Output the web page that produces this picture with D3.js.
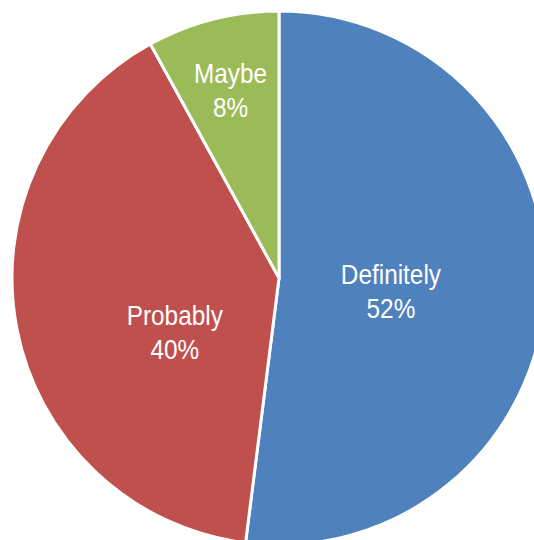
<!DOCTYPE html>
<html>
<head>
<meta charset="utf-8">
<script src="https://cdn.jsdelivr.net/npm/d3@7/dist/d3.min.js"></script>
<style>
  html, body { margin: 0; padding: 0; background: #ffffff; }
  svg { display: block; }
</style>
</head>
<body>
<svg id="chart" width="534" height="540"></svg>
<script>
// ---- data ----
const categories = ["Definitely", "Probably", "Maybe"];
const values = [52, 40, 8];
const valueLabels = ["52%", "40%", "8%"];

// ---- styling / layout ----
const colors = ["#4F81BD", "#C0504D", "#9BBB59"];
const width = 534, height = 540;
const cx = 279, cy = 278, radius = 267;
// label placement (fraction of radius, angular nudge in degrees, pixel nudge)
const labelLayout = [
  { r: 0.42, dAngle: 0, dx: 0, dy: 3 },
  { r: 0.43, dAngle: -14, dx: 0, dy: 3 },
  { r: 0.73, dAngle: 0, dx: 0, dy: -2 }
];
const fontSize = 28;
const xScale = 0.87;

const svg = d3.select("#chart");
const g = svg.append("g").attr("transform", `translate(${cx},${cy})`);

const color = d3.scaleOrdinal().domain(categories).range(colors);

const pie = d3.pie().sort(null).value(d => d.value);
const data = categories.map((c, i) => ({ name: c, value: values[i], label: valueLabels[i], idx: i }));
const arcs = pie(data);

const arc = d3.arc().innerRadius(0).outerRadius(radius);

g.selectAll("path.slice")
  .data(arcs)
  .enter().append("path")
  .attr("class", "slice")
  .attr("d", arc)
  .attr("fill", d => color(d.data.name))
  .attr("stroke", "#ffffff")
  .attr("stroke-width", 3)
  .attr("stroke-linejoin", "round");

const labels = g.selectAll("g.label")
  .data(arcs)
  .enter().append("g")
  .attr("class", "label")
  .attr("transform", d => {
    const L = labelLayout[d.data.idx];
    const mid = (d.startAngle + d.endAngle) / 2 + L.dAngle * Math.PI / 180;
    const r = L.r * radius;
    const x = Math.sin(mid) * r + L.dx;
    const y = -Math.cos(mid) * r + L.dy;
    return `translate(${x},${y}) scale(${xScale},1)`;
  });

labels.append("text")
  .attr("text-anchor", "middle")
  .attr("font-family", "'Liberation Sans', Arial, sans-serif")
  .attr("font-size", fontSize)
  .attr("fill", "#ffffff")
  .attr("y", -4)
  .text(d => d.data.name);

labels.append("text")
  .attr("text-anchor", "middle")
  .attr("font-family", "'Liberation Sans', Arial, sans-serif")
  .attr("font-size", fontSize)
  .attr("fill", "#ffffff")
  .attr("y", 30)
  .text(d => d.data.label);
</script>
</body>
</html>
